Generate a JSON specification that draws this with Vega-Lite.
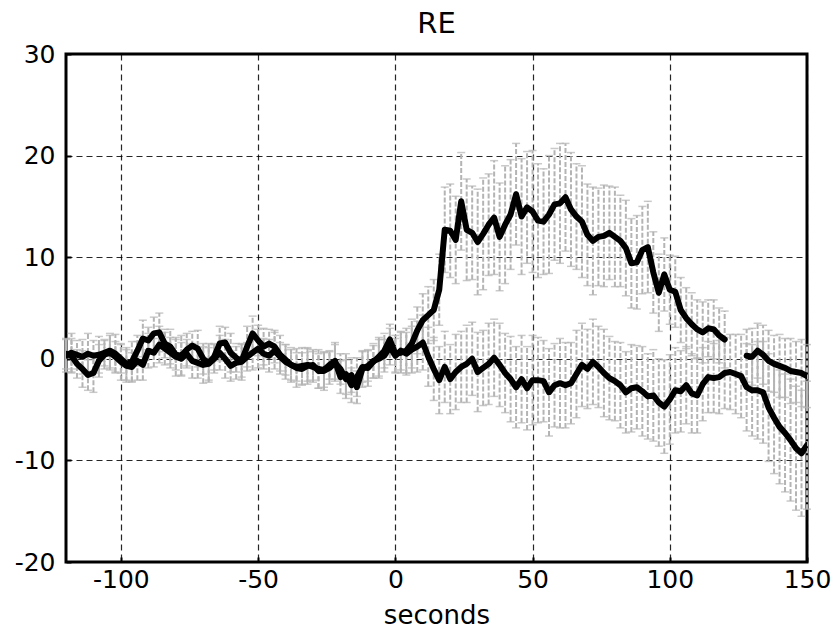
{
  "$schema": "https://vega.github.io/schema/vega-lite/v6.json",
  "autosize": {"type": "none"},
  "padding": {"left": 66, "top": 54, "right": 30, "bottom": 69},
  "width": 741,
  "height": 508,
  "background": "white",
  "title": {"text": "RE", "font": "DejaVu Sans", "fontSize": 29, "fontWeight": "normal", "color": "black", "offset": 3},
  "config": {
    "view": {"stroke": "black", "strokeWidth": 3},
    "axis": {
      "labelFont": "DejaVu Sans", "labelFontSize": 25, "labelColor": "black",
      "titleFont": "DejaVu Sans", "titleFontSize": 26, "titleFontWeight": "normal", "titleColor": "black",
      "grid": true, "gridColor": "black", "gridDash": [6, 4], "gridWidth": 1.2, "gridOpacity": 0.85,
      "domain": false, "tickColor": "black", "tickSize": -5, "tickWidth": 2,
      "labelExpr": "'' + datum.value"
    }
  },
  "data": {"values": [
    {"t":-120,"s":"A1","y":0.3,"e":1.6},{"t":-118,"s":"A1","y":0.6,"e":1.9},{"t":-116,"s":"A1","y":0.4,"e":1.4},{"t":-114,"s":"A1","y":0.2,"e":1.7},
    {"t":-112,"s":"A1","y":0.5,"e":2.0},{"t":-110,"s":"A1","y":0.3,"e":1.5},{"t":-108,"s":"A1","y":0.4,"e":1.8},{"t":-106,"s":"A1","y":0.6,"e":1.3},
    {"t":-104,"s":"A1","y":0.8,"e":1.7},{"t":-102,"s":"A1","y":0.5,"e":1.9},{"t":-100,"s":"A1","y":0.0,"e":1.4},{"t":-98,"s":"A1","y":-0.5,"e":1.6},
    {"t":-96,"s":"A1","y":-0.3,"e":2.0},{"t":-94,"s":"A1","y":0.8,"e":1.5},{"t":-92,"s":"A1","y":2.0,"e":1.8},{"t":-90,"s":"A1","y":1.8,"e":1.3},
    {"t":-88,"s":"A1","y":2.5,"e":1.6},{"t":-86,"s":"A1","y":2.6,"e":1.9},{"t":-84,"s":"A1","y":1.5,"e":1.4},{"t":-82,"s":"A1","y":1.2,"e":1.7},
    {"t":-80,"s":"A1","y":0.4,"e":1.5},{"t":-78,"s":"A1","y":0.3,"e":2.0},{"t":-76,"s":"A1","y":0.9,"e":1.6},{"t":-74,"s":"A1","y":1.3,"e":1.4},
    {"t":-72,"s":"A1","y":1.0,"e":1.8},{"t":-70,"s":"A1","y":0.0,"e":1.5},{"t":-68,"s":"A1","y":-0.4,"e":1.9},{"t":-66,"s":"A1","y":0.2,"e":1.3},
    {"t":-64,"s":"A1","y":1.5,"e":1.7},{"t":-62,"s":"A1","y":1.6,"e":1.5},{"t":-60,"s":"A1","y":0.6,"e":1.9},{"t":-58,"s":"A1","y":0.1,"e":1.4},
    {"t":-56,"s":"A1","y":-0.2,"e":1.6},{"t":-54,"s":"A1","y":1.2,"e":2.0},{"t":-52,"s":"A1","y":2.5,"e":1.7},{"t":-50,"s":"A1","y":1.8,"e":1.5},
    {"t":-48,"s":"A1","y":1.2,"e":1.8},{"t":-46,"s":"A1","y":1.5,"e":1.4},{"t":-44,"s":"A1","y":1.2,"e":1.6},{"t":-42,"s":"A1","y":0.4,"e":1.9},
    {"t":-40,"s":"A1","y":-0.1,"e":1.5},{"t":-38,"s":"A1","y":-0.6,"e":1.7},{"t":-36,"s":"A1","y":-0.8,"e":1.4},{"t":-34,"s":"A1","y":-0.7,"e":1.8},
    {"t":-32,"s":"A1","y":-0.6,"e":1.6},{"t":-30,"s":"A1","y":-0.8,"e":1.5},{"t":-28,"s":"A1","y":-1.0,"e":1.9},{"t":-26,"s":"A1","y":-1.1,"e":1.7},
    {"t":-24,"s":"A1","y":-0.6,"e":1.4},{"t":-22,"s":"A1","y":-0.2,"e":1.8},{"t":-20,"s":"A1","y":-1.8,"e":1.6},{"t":-18,"s":"A1","y":-1.5,"e":2.0},
    {"t":-16,"s":"A1","y":-2.6,"e":1.7},{"t":-14,"s":"A1","y":-1.8,"e":1.9},{"t":-12,"s":"A1","y":-0.8,"e":1.5},{"t":-10,"s":"A1","y":-0.9,"e":1.8},
    {"t":-8,"s":"A1","y":-0.3,"e":1.6},{"t":-6,"s":"A1","y":0.2,"e":1.9},{"t":-4,"s":"A1","y":0.8,"e":1.7},{"t":-2,"s":"A1","y":1.9,"e":1.5},
    {"t":0,"s":"A1","y":0.5,"e":1.8},{"t":2,"s":"A1","y":0.6,"e":2.0},{"t":4,"s":"A1","y":0.8,"e":2.2},{"t":6,"s":"A1","y":1.5,"e":2.4},
    {"t":8,"s":"A1","y":2.8,"e":2.3},{"t":10,"s":"A1","y":3.8,"e":2.6},{"t":12,"s":"A1","y":4.3,"e":2.8},{"t":14,"s":"A1","y":4.8,"e":3.0},
    {"t":16,"s":"A1","y":6.8,"e":3.5},{"t":18,"s":"A1","y":12.7,"e":4.2},{"t":20,"s":"A1","y":12.6,"e":4.6},{"t":22,"s":"A1","y":11.7,"e":4.3},
    {"t":24,"s":"A1","y":15.5,"e":4.8},{"t":26,"s":"A1","y":12.7,"e":5.0},{"t":28,"s":"A1","y":12.4,"e":4.6},{"t":30,"s":"A1","y":11.5,"e":5.2},
    {"t":32,"s":"A1","y":12.3,"e":5.5},{"t":34,"s":"A1","y":13.2,"e":5.0},{"t":36,"s":"A1","y":13.9,"e":5.6},{"t":38,"s":"A1","y":12.0,"e":5.3},
    {"t":40,"s":"A1","y":13.2,"e":5.8},{"t":42,"s":"A1","y":14.2,"e":5.4},{"t":44,"s":"A1","y":16.2,"e":5.0},{"t":46,"s":"A1","y":14.0,"e":5.7},
    {"t":48,"s":"A1","y":14.9,"e":5.5},{"t":50,"s":"A1","y":14.5,"e":6.0},{"t":52,"s":"A1","y":13.6,"e":5.6},{"t":54,"s":"A1","y":13.5,"e":5.2},
    {"t":56,"s":"A1","y":14.2,"e":5.8},{"t":58,"s":"A1","y":15.2,"e":5.5},{"t":60,"s":"A1","y":15.3,"e":5.9},{"t":62,"s":"A1","y":15.9,"e":5.3},
    {"t":64,"s":"A1","y":14.7,"e":5.6},{"t":66,"s":"A1","y":14.0,"e":5.2},{"t":68,"s":"A1","y":13.5,"e":5.5},{"t":70,"s":"A1","y":12.2,"e":5.0},
    {"t":72,"s":"A1","y":11.6,"e":5.3},{"t":74,"s":"A1","y":12.0,"e":4.8},{"t":76,"s":"A1","y":12.1,"e":5.0},{"t":78,"s":"A1","y":12.4,"e":4.6},
    {"t":80,"s":"A1","y":12.0,"e":4.9},{"t":82,"s":"A1","y":11.6,"e":4.5},{"t":84,"s":"A1","y":10.9,"e":4.7},{"t":86,"s":"A1","y":9.4,"e":4.4},
    {"t":88,"s":"A1","y":9.5,"e":4.6},{"t":90,"s":"A1","y":10.7,"e":4.3},{"t":92,"s":"A1","y":11.0,"e":4.5},{"t":94,"s":"A1","y":8.5,"e":4.0},
    {"t":96,"s":"A1","y":6.5,"e":3.8},{"t":98,"s":"A1","y":8.3,"e":3.6},{"t":100,"s":"A1","y":6.8,"e":3.4},{"t":102,"s":"A1","y":6.6,"e":3.5},
    {"t":104,"s":"A1","y":4.8,"e":3.2},{"t":106,"s":"A1","y":4.0,"e":3.0},{"t":108,"s":"A1","y":3.4,"e":3.1},{"t":110,"s":"A1","y":2.9,"e":2.9},
    {"t":112,"s":"A1","y":2.6,"e":3.0},{"t":114,"s":"A1","y":3.0,"e":2.8},{"t":116,"s":"A1","y":2.9,"e":2.9},{"t":118,"s":"A1","y":2.3,"e":2.7},
    {"t":120,"s":"A1","y":1.9,"e":2.8},
    {"t":128,"s":"A2","y":0.3,"e":2.6},{"t":130,"s":"A2","y":0.2,"e":2.8},{"t":132,"s":"A2","y":0.8,"e":2.7},{"t":134,"s":"A2","y":0.4,"e":2.9},
    {"t":136,"s":"A2","y":-0.2,"e":3.0},{"t":138,"s":"A2","y":-0.5,"e":2.8},{"t":140,"s":"A2","y":-0.7,"e":3.1},{"t":142,"s":"A2","y":-0.9,"e":2.9},
    {"t":144,"s":"A2","y":-1.2,"e":3.2},{"t":146,"s":"A2","y":-1.3,"e":3.0},{"t":148,"s":"A2","y":-1.4,"e":3.3},{"t":150,"s":"A2","y":-1.7,"e":3.1},

    {"t":-120,"s":"B","y":0.5,"e":1.5},{"t":-118,"s":"B","y":0.3,"e":1.7},{"t":-116,"s":"B","y":-0.5,"e":1.4},{"t":-114,"s":"B","y":-1.0,"e":1.8},
    {"t":-112,"s":"B","y":-1.6,"e":1.5},{"t":-110,"s":"B","y":-1.4,"e":1.9},{"t":-108,"s":"B","y":-0.2,"e":1.6},{"t":-106,"s":"B","y":0.4,"e":1.4},
    {"t":-104,"s":"B","y":0.6,"e":1.7},{"t":-102,"s":"B","y":0.2,"e":1.5},{"t":-100,"s":"B","y":-0.3,"e":1.8},{"t":-98,"s":"B","y":-0.7,"e":1.6},
    {"t":-96,"s":"B","y":-0.8,"e":1.4},{"t":-94,"s":"B","y":-0.2,"e":1.9},{"t":-92,"s":"B","y":-0.6,"e":1.5},{"t":-90,"s":"B","y":0.8,"e":1.7},
    {"t":-88,"s":"B","y":0.6,"e":1.4},{"t":-86,"s":"B","y":1.4,"e":1.8},{"t":-84,"s":"B","y":1.0,"e":1.6},{"t":-82,"s":"B","y":0.6,"e":1.5},
    {"t":-80,"s":"B","y":0.2,"e":1.9},{"t":-78,"s":"B","y":0.0,"e":1.6},{"t":-76,"s":"B","y":0.5,"e":1.4},{"t":-74,"s":"B","y":-0.2,"e":1.7},
    {"t":-72,"s":"B","y":-0.4,"e":1.5},{"t":-70,"s":"B","y":-0.6,"e":1.8},{"t":-68,"s":"B","y":-0.5,"e":1.6},{"t":-66,"s":"B","y":0.0,"e":1.4},
    {"t":-64,"s":"B","y":0.6,"e":1.7},{"t":-62,"s":"B","y":0.0,"e":1.9},{"t":-60,"s":"B","y":-0.7,"e":1.5},{"t":-58,"s":"B","y":-0.4,"e":1.6},
    {"t":-56,"s":"B","y":-0.3,"e":1.8},{"t":-54,"s":"B","y":0.2,"e":1.4},{"t":-52,"s":"B","y":0.6,"e":1.7},{"t":-50,"s":"B","y":1.0,"e":1.9},
    {"t":-48,"s":"B","y":0.5,"e":1.5},{"t":-46,"s":"B","y":0.3,"e":1.6},{"t":-44,"s":"B","y":0.8,"e":1.8},{"t":-42,"s":"B","y":0.2,"e":1.4},
    {"t":-40,"s":"B","y":-0.3,"e":1.7},{"t":-38,"s":"B","y":-0.6,"e":1.5},{"t":-36,"s":"B","y":-0.9,"e":1.9},{"t":-34,"s":"B","y":-1.0,"e":1.6},
    {"t":-32,"s":"B","y":-0.7,"e":1.8},{"t":-30,"s":"B","y":-0.6,"e":1.5},{"t":-28,"s":"B","y":-1.2,"e":1.7},{"t":-26,"s":"B","y":-1.2,"e":1.9},
    {"t":-24,"s":"B","y":-0.9,"e":1.6},{"t":-22,"s":"B","y":-0.4,"e":1.8},{"t":-20,"s":"B","y":-1.0,"e":1.5},{"t":-18,"s":"B","y":-2.0,"e":1.9},
    {"t":-16,"s":"B","y":-1.6,"e":1.7},{"t":-14,"s":"B","y":-2.8,"e":1.6},{"t":-12,"s":"B","y":-1.0,"e":1.8},{"t":-10,"s":"B","y":-0.7,"e":1.5},
    {"t":-8,"s":"B","y":-0.2,"e":1.7},{"t":-6,"s":"B","y":0.0,"e":1.9},{"t":-4,"s":"B","y":0.3,"e":1.6},{"t":-2,"s":"B","y":1.2,"e":1.8},
    {"t":0,"s":"B","y":0.3,"e":1.7},{"t":2,"s":"B","y":0.8,"e":1.9},{"t":4,"s":"B","y":0.5,"e":2.1},{"t":6,"s":"B","y":0.9,"e":2.3},
    {"t":8,"s":"B","y":1.2,"e":2.5},{"t":10,"s":"B","y":1.6,"e":2.7},{"t":12,"s":"B","y":0.2,"e":2.9},{"t":14,"s":"B","y":-1.0,"e":3.1},
    {"t":16,"s":"B","y":-2.1,"e":3.3},{"t":18,"s":"B","y":-0.8,"e":3.5},{"t":20,"s":"B","y":-2.0,"e":3.4},{"t":22,"s":"B","y":-1.3,"e":3.7},
    {"t":24,"s":"B","y":-0.8,"e":3.5},{"t":26,"s":"B","y":-0.5,"e":3.8},{"t":28,"s":"B","y":0.0,"e":3.6},{"t":30,"s":"B","y":-1.3,"e":3.9},
    {"t":32,"s":"B","y":-0.9,"e":3.7},{"t":34,"s":"B","y":-0.5,"e":4.0},{"t":36,"s":"B","y":0.1,"e":3.8},{"t":38,"s":"B","y":-0.6,"e":4.1},
    {"t":40,"s":"B","y":-1.4,"e":3.9},{"t":42,"s":"B","y":-2.0,"e":4.2},{"t":44,"s":"B","y":-2.8,"e":4.0},{"t":46,"s":"B","y":-2.0,"e":4.3},
    {"t":48,"s":"B","y":-2.9,"e":4.1},{"t":50,"s":"B","y":-2.1,"e":4.4},{"t":52,"s":"B","y":-2.1,"e":4.2},{"t":54,"s":"B","y":-2.2,"e":4.0},
    {"t":56,"s":"B","y":-3.3,"e":4.3},{"t":58,"s":"B","y":-2.6,"e":4.1},{"t":60,"s":"B","y":-2.4,"e":4.4},{"t":62,"s":"B","y":-2.6,"e":4.2},
    {"t":64,"s":"B","y":-2.4,"e":4.0},{"t":66,"s":"B","y":-1.5,"e":4.3},{"t":68,"s":"B","y":-0.6,"e":4.1},{"t":70,"s":"B","y":-1.0,"e":3.9},
    {"t":72,"s":"B","y":-0.3,"e":4.2},{"t":74,"s":"B","y":-0.8,"e":4.0},{"t":76,"s":"B","y":-1.4,"e":4.3},{"t":78,"s":"B","y":-1.9,"e":4.1},
    {"t":80,"s":"B","y":-2.2,"e":3.9},{"t":82,"s":"B","y":-2.6,"e":4.2},{"t":84,"s":"B","y":-3.3,"e":4.0},{"t":86,"s":"B","y":-2.9,"e":4.3},
    {"t":88,"s":"B","y":-2.8,"e":4.1},{"t":90,"s":"B","y":-3.2,"e":4.4},{"t":92,"s":"B","y":-3.7,"e":4.2},{"t":94,"s":"B","y":-3.6,"e":4.5},
    {"t":96,"s":"B","y":-4.3,"e":4.3},{"t":98,"s":"B","y":-4.7,"e":4.6},{"t":100,"s":"B","y":-4.0,"e":4.4},{"t":102,"s":"B","y":-3.1,"e":4.2},
    {"t":104,"s":"B","y":-3.2,"e":4.0},{"t":106,"s":"B","y":-2.6,"e":3.8},{"t":108,"s":"B","y":-3.4,"e":3.9},{"t":110,"s":"B","y":-3.6,"e":3.7},
    {"t":112,"s":"B","y":-2.5,"e":3.6},{"t":114,"s":"B","y":-1.8,"e":3.5},{"t":116,"s":"B","y":-1.9,"e":3.4},{"t":118,"s":"B","y":-1.8,"e":3.6},
    {"t":120,"s":"B","y":-1.4,"e":3.5},{"t":122,"s":"B","y":-1.3,"e":3.7},{"t":124,"s":"B","y":-1.5,"e":3.9},{"t":126,"s":"B","y":-1.7,"e":4.1},
    {"t":128,"s":"B","y":-2.8,"e":4.3},{"t":130,"s":"B","y":-3.1,"e":4.5},{"t":132,"s":"B","y":-3.1,"e":4.8},{"t":134,"s":"B","y":-3.3,"e":5.0},
    {"t":136,"s":"B","y":-4.8,"e":5.3},{"t":138,"s":"B","y":-5.8,"e":5.5},{"t":140,"s":"B","y":-6.7,"e":5.6},{"t":142,"s":"B","y":-7.3,"e":5.8},
    {"t":144,"s":"B","y":-8.0,"e":6.0},{"t":146,"s":"B","y":-8.8,"e":6.1},{"t":148,"s":"B","y":-9.3,"e":6.2},{"t":150,"s":"B","y":-8.5,"e":6.3}
  ]},
  "encoding": {
    "x": {"field": "t", "type": "quantitative",
          "scale": {"domain": [-120, 150], "nice": false, "zero": false},
          "axis": {"values": [-100, -50, 0, 50, 100, 150], "title": "seconds", "labelPadding": 10, "titlePadding": 10, "labelFlush": false}},
    "y": {"field": "y", "type": "quantitative",
          "scale": {"domain": [-20, 30], "nice": false, "zero": false},
          "axis": {"values": [-20, -10, 0, 10, 20, 30], "title": null, "labelPadding": 16, "labelFlush": false}},
    "detail": {"field": "s"}
  },
  "layer": [
    {
      "mark": {"type": "errorbar", "color": "#b4b4b4", "thickness": 2,
               "ticks": {"size": 8, "color": "#b4b4b4", "thickness": 1.5},
               "rule": {"strokeDash": [5, 2]}},
      "encoding": {"yError": {"field": "e"}}
    },
    {
      "mark": {"type": "line", "color": "black", "strokeWidth": 6, "strokeJoin": "round", "strokeCap": "round", "clip": true}
    }
  ]
}
